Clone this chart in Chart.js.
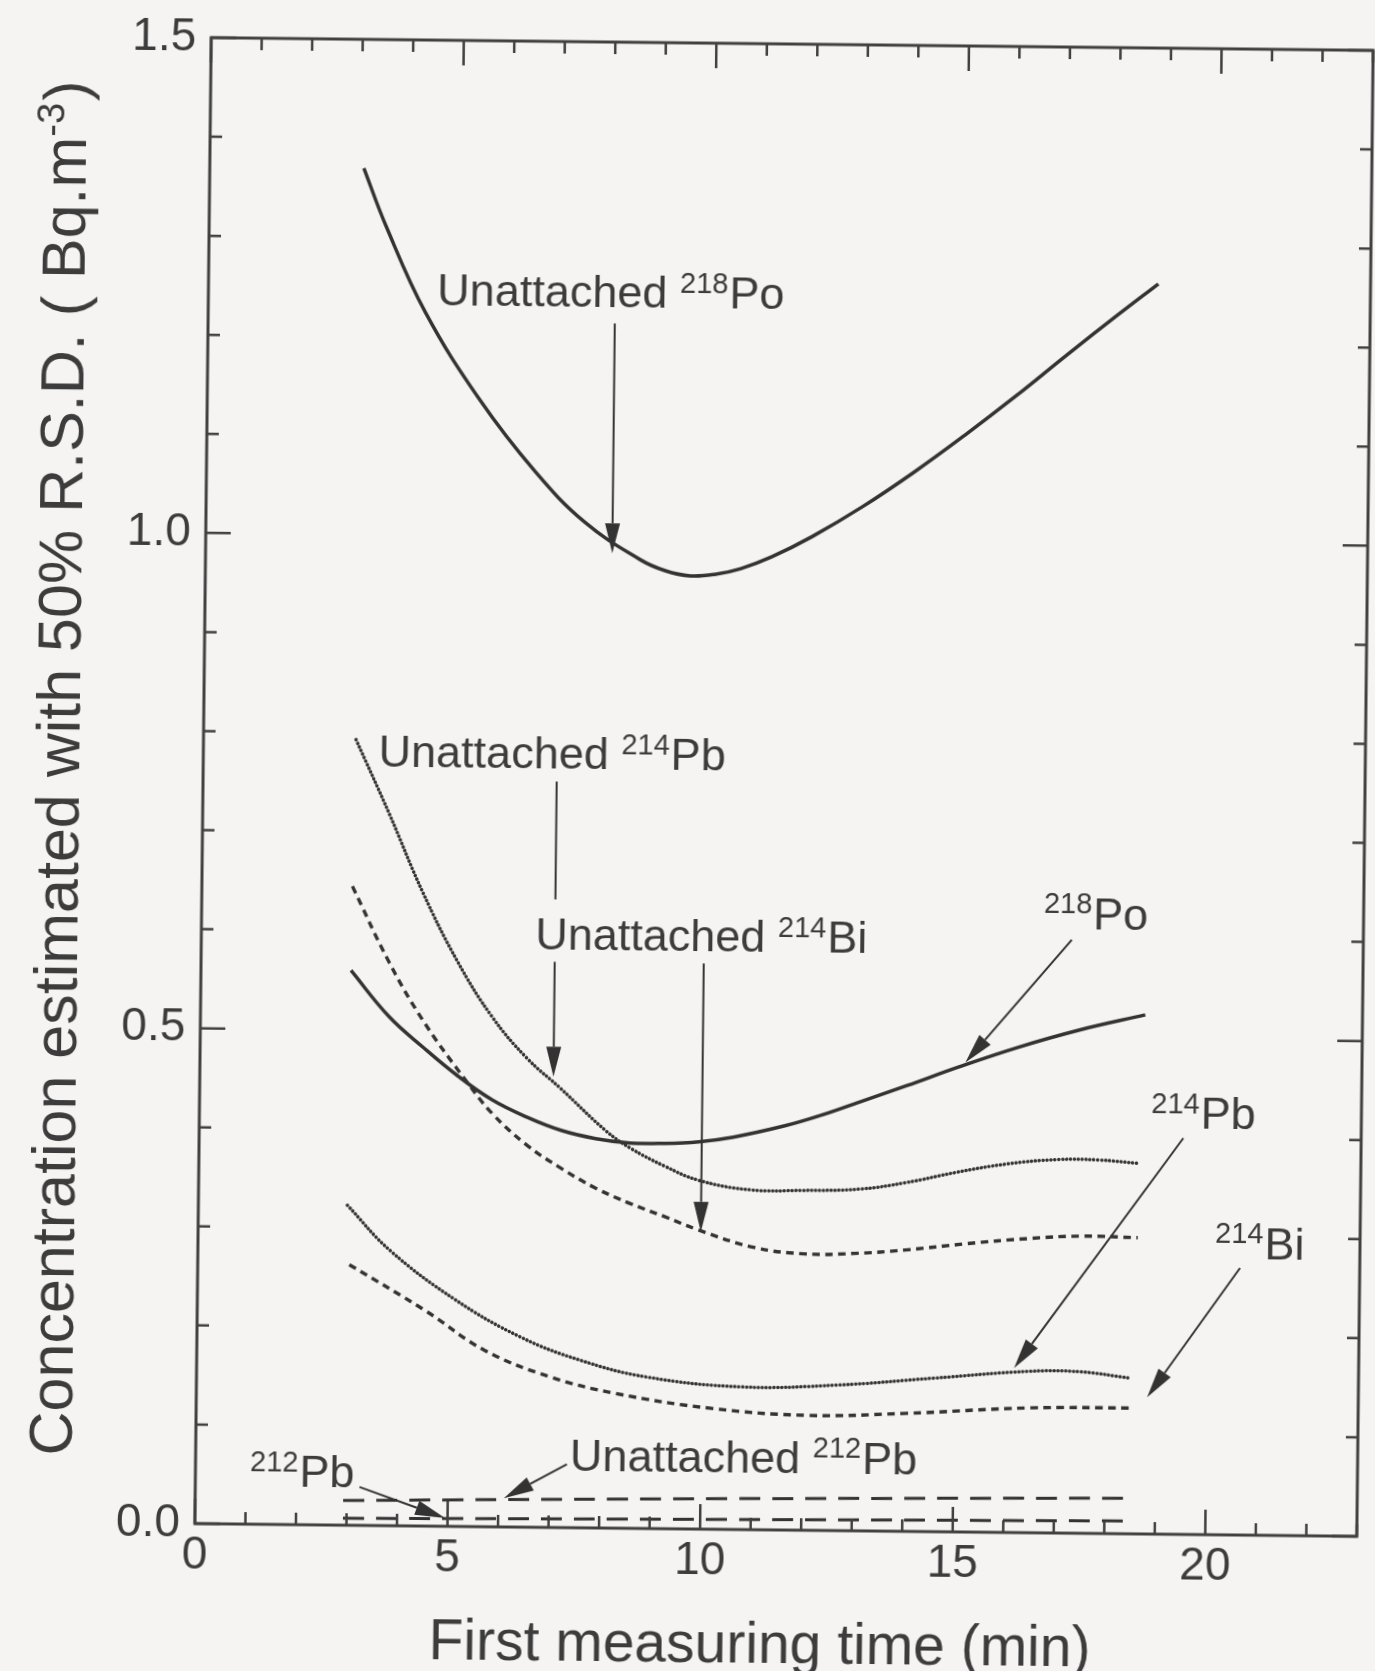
<!DOCTYPE html>
<html>
<head>
<meta charset="utf-8">
<title>Detection limit vs first measuring time</title>
<script src="https://cdn.jsdelivr.net/npm/chart.js@4.4.0/dist/chart.umd.min.js"></script>
<style>
  html, body { margin: 0; padding: 0; background: #f6f4f3; overflow: hidden; }
  /* the printed figure sits slightly skewed on the page */
  #wrap { width: 1375px; height: 1671px; transform: rotate(0.63deg); transform-origin: 784px 787px; }
</style>
</head>
<body>
<div id="wrap"><canvas id="mycanvas" width="1375" height="1671"></canvas></div>
<script>
// first measuring time (min) and concentration (Bq.m-3) for each curve
var xLabels = [0, 5, 10, 15, 20];
var yLabels = [0.0, 0.5, 1.0, 1.5];

var po218u_x = [3.05, 3.5, 4.3, 5.4, 6.5, 7.5, 8.6, 9.1, 9.6, 10.1, 10.6, 11.2, 12.0, 13.0, 14.0, 15.0, 16.0, 17.0, 18.0, 18.8];
var po218u_y = [1.370, 1.312, 1.225, 1.137, 1.066, 1.015, 0.978, 0.967, 0.962, 0.964, 0.970, 0.982, 1.003, 1.034, 1.069, 1.107, 1.147, 1.189, 1.230, 1.262];

var po218_x = [2.97, 3.73, 4.42, 5.1, 5.79, 6.48, 7.16, 7.85, 8.53, 9.21, 9.89, 10.57, 11.59, 12.3, 13.07, 14.0, 15.0, 16.2, 17.4, 18.7];
var po218_y = [0.560, 0.514, 0.483, 0.455, 0.431, 0.414, 0.401, 0.393, 0.389, 0.389, 0.391, 0.396, 0.408, 0.419, 0.433, 0.450, 0.469, 0.490, 0.508, 0.524];

var pb214u_x = [3.02, 3.69, 4.38, 5.08, 5.77, 6.46, 7.15, 8.05, 8.53, 9.22, 9.9, 10.92, 11.95, 13.09, 14.0, 15.0, 16.0, 17.0, 17.8, 18.6];
var pb214u_y = [0.793, 0.719, 0.639, 0.570, 0.515, 0.474, 0.443, 0.401, 0.384, 0.366, 0.352, 0.343, 0.343, 0.345, 0.352, 0.363, 0.372, 0.377, 0.377, 0.374];

var bi214u_x = [2.98, 3.72, 4.41, 5.24, 5.8, 6.48, 7.16, 7.86, 8.54, 9.23, 9.9, 11.0, 12.0, 13.0, 14.0, 15.2, 16.45, 17.5, 18.6];
var bi214u_y = [0.645, 0.569, 0.510, 0.452, 0.417, 0.386, 0.363, 0.343, 0.328, 0.315, 0.302, 0.285, 0.279, 0.280, 0.284, 0.291, 0.297, 0.300, 0.299];

var pb214_x = [2.95, 3.8, 5.1, 6.4, 7.6, 8.9, 10.8, 12.7, 14.6, 16.5, 17.5, 18.5];
var pb214_y = [0.323, 0.278, 0.229, 0.192, 0.169, 0.153, 0.144, 0.147, 0.155, 0.163, 0.163, 0.157];

var bi214_x = [3.0, 4.5, 5.7, 7.0, 8.3, 10.2, 12.1, 14.0, 16.5, 18.5];
var bi214_y = [0.263, 0.218, 0.178, 0.152, 0.136, 0.122, 0.116, 0.119, 0.126, 0.127];

var pb212u_x = [2.93, 10.5, 18.5];
var pb212u_y = [0.025, 0.031, 0.036];

var pb212_x = [2.93, 10.5, 18.5];
var pb212_y = [0.007, 0.010, 0.013];

var ink = '#333333';
var textInk = '#3c3c3c';
var family = '"Liberation Sans", Arial, Helvetica, sans-serif';

// labels with arrows, placed in axis units; gap = stretch of the shaft hidden behind another label
var notes = [
  {pre: 'Unattached ', mass: '218', sym: 'Po', at: [4.53, 1.232], from: [8.05, 1.216], to: [8.05, 0.984]},
  {pre: 'Unattached ', mass: '214', sym: 'Pb', at: [3.47, 0.766], from: [7.0, 0.753], to: [7.0, 0.455], gap: [0.634, 0.571]},
  {pre: 'Unattached ', mass: '214', sym: 'Bi', at: [6.61, 0.583], from: [9.95, 0.571], to: [9.95, 0.300]},
  {pre: '', mass: '218', sym: 'Po', at: [16.67, 0.610], from: [17.23, 0.599], to: [15.15, 0.474]},
  {pre: '', mass: '214', sym: 'Pb', at: [18.84, 0.410], from: [19.48, 0.400], to: [16.18, 0.166]},
  {pre: '', mass: '214', sym: 'Bi', at: [20.13, 0.279], from: [20.63, 0.2695], to: [18.82, 0.138]},
  {pre: '', mass: '212', sym: 'Pb', at: [1.08, 0.0385], from: [3.25, 0.0387], to: [4.95, 0.0084]},
  {pre: 'Unattached ', mass: '212', sym: 'Pb', at: [7.41, 0.058], from: [7.35, 0.064], to: [6.11, 0.029]}
];

function pairs(xs, ys) {
  var out = [];
  for (var i = 0; i < xs.length; i++) {
    out.push({x: xs[i], y: ys[i]});
  }
  return out;
}

function curve(xs, ys, dash, width, cap) {
  return {
    data: pairs(xs, ys),
    showLine: true,
    borderColor: ink,
    borderWidth: width,
    borderDash: dash,
    borderCapStyle: cap || 'butt',
    tension: 0.4,
    pointRadius: 0,
    pointHoverRadius: 0,
    fill: false
  };
}

var dots = [0.1, 3.8];
var dashes = [7.5, 5.5];
var longDashes = [21, 12];

function isMajorY(v) {
  return Math.round(v * 10) % 5 === 0;
}

// box with inward ticks on all four sides
var framePlugin = {
  id: 'frame',
  afterDatasetsDraw: function(chart) {
    var ctx = chart.ctx, a = chart.chartArea;
    var xs = chart.scales.x, ys = chart.scales.y;
    ctx.save();
    ctx.strokeStyle = '#404040';
    ctx.lineWidth = 2.5;
    ctx.beginPath();
    xs.ticks.forEach(function(t) {
      var px = xs.getPixelForValue(t.value);
      var len = t.value % 5 === 0 ? 25 : 12;
      ctx.moveTo(px, a.bottom); ctx.lineTo(px, a.bottom - len);
      ctx.moveTo(px, a.top); ctx.lineTo(px, a.top + len);
    });
    ys.ticks.forEach(function(t) {
      var py = ys.getPixelForValue(t.value);
      var len = isMajorY(t.value) ? 25 : 12;
      ctx.moveTo(a.left, py); ctx.lineTo(a.left + len, py);
      ctx.moveTo(a.right, py); ctx.lineTo(a.right - len, py);
    });
    ctx.stroke();
    ctx.lineWidth = 3;
    ctx.strokeRect(a.left, a.top, a.right - a.left, a.bottom - a.top);
    ctx.restore();
  }
};

function isotope(ctx, x, y, pre, mass, sym, size) {
  ctx.font = size + 'px ' + family;
  ctx.fillText(pre, x, y);
  x += ctx.measureText(pre).width;
  var small = Math.round(size * 0.65);
  ctx.font = small + 'px ' + family;
  ctx.fillText(mass, x, y - size * 0.34);
  x += ctx.measureText(mass).width + 1;
  ctx.font = size + 'px ' + family;
  ctx.fillText(sym, x, y);
}

function shaft(ctx, x0, y0, x1, y1) {
  ctx.beginPath();
  ctx.moveTo(x0, y0);
  ctx.lineTo(x1, y1);
  ctx.stroke();
}

function arrow(ctx, x0, y0, x1, y1) {
  var ang = Math.atan2(y1 - y0, x1 - x0);
  var len = 30, half = 7.5;
  var bx = x1 - len * Math.cos(ang), by = y1 - len * Math.sin(ang);
  shaft(ctx, x0, y0, bx, by);
  ctx.beginPath();
  ctx.moveTo(x1, y1);
  ctx.lineTo(bx + half * Math.sin(ang), by - half * Math.cos(ang));
  ctx.lineTo(bx - half * Math.sin(ang), by + half * Math.cos(ang));
  ctx.closePath();
  ctx.fill();
}

var notesPlugin = {
  id: 'notes',
  afterDraw: function(chart) {
    var ctx = chart.ctx, a = chart.chartArea;
    var xs = chart.scales.x, ys = chart.scales.y;
    ctx.save();
    ctx.strokeStyle = ink;
    ctx.lineWidth = 2;
    ctx.textBaseline = 'alphabetic';
    ctx.textAlign = 'left';
    notes.forEach(function(n) {
      ctx.fillStyle = textInk;
      isotope(ctx, xs.getPixelForValue(n.at[0]), ys.getPixelForValue(n.at[1]), n.pre, n.mass, n.sym, 45);
      ctx.fillStyle = ink;
      var x0 = xs.getPixelForValue(n.from[0]), y0 = ys.getPixelForValue(n.from[1]);
      var x1 = xs.getPixelForValue(n.to[0]), y1 = ys.getPixelForValue(n.to[1]);
      if (n.gap) {
        // vertical shaft broken where it passes behind a label
        shaft(ctx, x0, y0, x0, ys.getPixelForValue(n.gap[0]));
        y0 = ys.getPixelForValue(n.gap[1]);
      }
      arrow(ctx, x0, y0, x1, y1);
    });

    ctx.fillStyle = textInk;

    // x axis title
    ctx.font = '57px ' + family;
    ctx.textAlign = 'center';
    ctx.fillText('First measuring time (min)', (a.left + a.right) / 2 - 15, 1663);

    // y axis title with superscript unit
    var main = 'Concentration estimated with 50% R.S.D. ( Bq.m';
    var sup = '-3';
    var tail = ')';
    ctx.textAlign = 'left';
    ctx.font = '61px ' + family;
    var w1 = ctx.measureText(main).width;
    var w3 = ctx.measureText(tail).width;
    ctx.font = '38px ' + family;
    var w2 = ctx.measureText(sup).width;
    ctx.translate(79, (a.top + a.bottom) / 2 - 10);
    ctx.rotate(-Math.PI / 2);
    var u = -(w1 + w2 + w3) / 2;
    ctx.font = '61px ' + family;
    ctx.fillText(main, u, 0);
    ctx.font = '38px ' + family;
    ctx.fillText(sup, u + w1, -22);
    ctx.font = '61px ' + family;
    ctx.fillText(tail, u + w1 + w2 + 2, 0);
    ctx.restore();
  }
};

var chartdata = {
  datasets: [
    curve(po218u_x, po218u_y, [], 3.5),
    curve(po218_x, po218_y, [], 3.5),
    curve(pb214u_x, pb214u_y, dots, 3.5, 'round'),
    curve(bi214u_x, bi214u_y, dashes, 3.4),
    curve(pb214_x, pb214_y, dots, 3.5, 'round'),
    curve(bi214_x, bi214_y, dashes, 3.4),
    curve(pb212u_x, pb212u_y, longDashes, 3),
    curve(pb212_x, pb212_y, longDashes, 3)
  ]
};

var ctx = document.getElementById('mycanvas');

var graph = new Chart(ctx, {
  type: 'scatter',
  data: chartdata,
  plugins: [framePlugin, notesPlugin],
  options: {
    responsive: false,
    animation: false,
    events: [],
    layout: { padding: { left: 0, top: 44, right: 10, bottom: 0 } },
    plugins: {
      legend: { display: false },
      tooltip: { enabled: false }
    },
    scales: {
      x: {
        type: 'linear',
        min: 0,
        max: 23,
        grid: { display: false, drawTicks: false },
        border: { display: false },
        ticks: {
          stepSize: 1,
          autoSkip: false,
          maxRotation: 0,
          padding: 5,
          color: textInk,
          font: { family: family, size: 46 },
          callback: function(v) { return xLabels.indexOf(v) >= 0 ? String(v) : ''; }
        },
        afterFit: function(scale) { scale.height = 141; }
      },
      y: {
        type: 'linear',
        min: 0,
        max: 1.5,
        grid: { display: false, drawTicks: false },
        border: { display: false },
        ticks: {
          stepSize: 0.1,
          autoSkip: false,
          padding: 15,
          color: textInk,
          font: { family: family, size: 46 },
          callback: function(v) {
            var r = Math.round(v * 10) / 10;
            return yLabels.indexOf(r) >= 0 ? r.toFixed(1) : '';
          }
        },
        afterFit: function(scale) { scale.width = 203; }
      }
    }
  }
});
</script>
</body>
</html>
